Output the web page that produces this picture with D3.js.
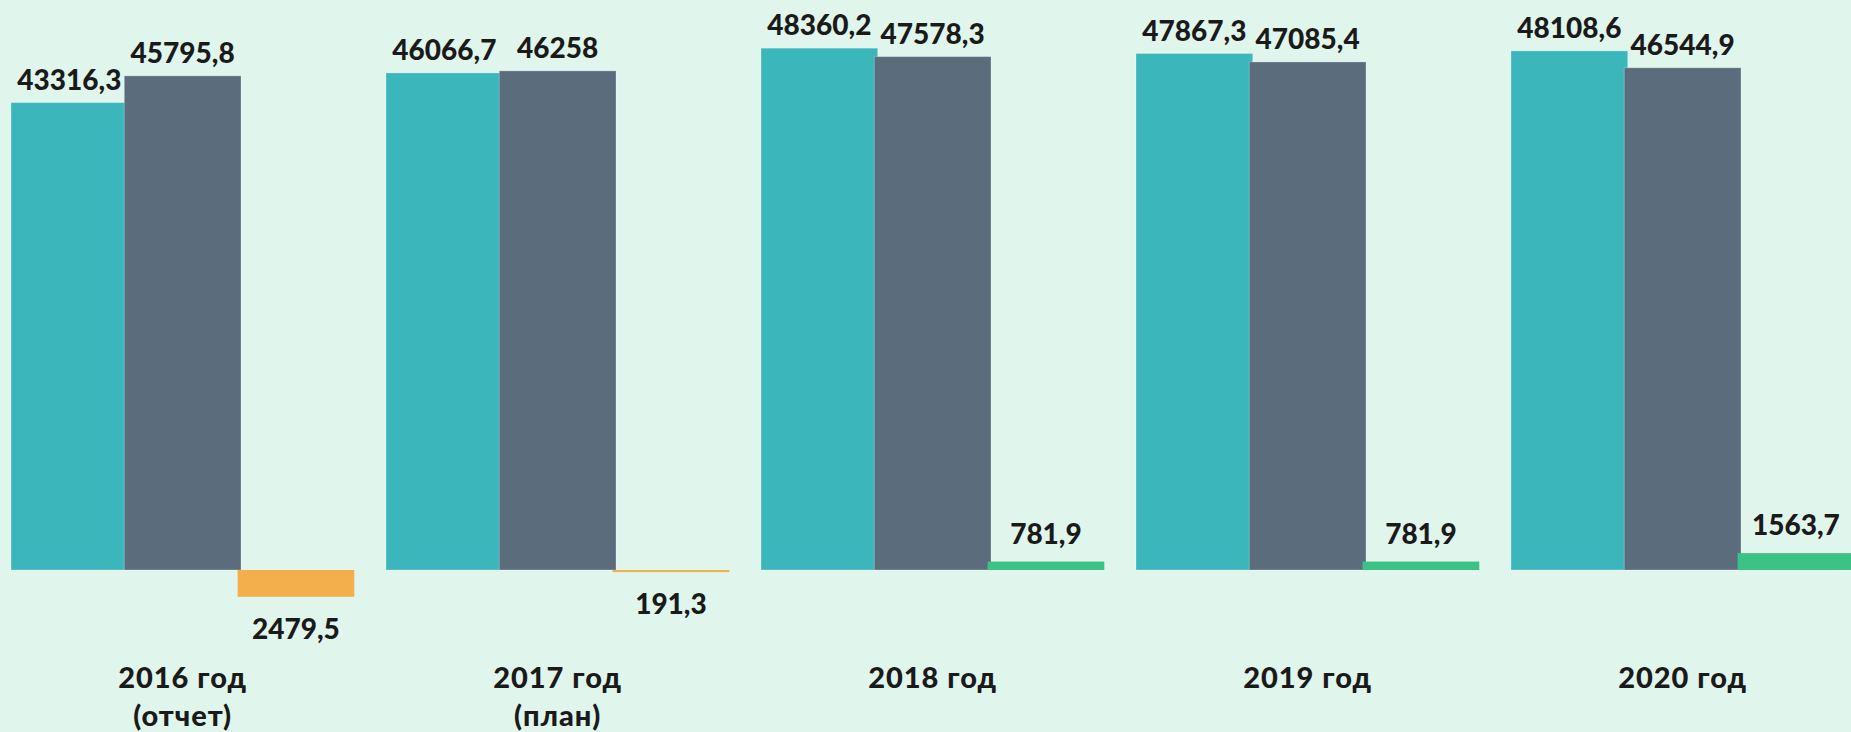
<!DOCTYPE html>
<meta charset="utf-8">
<style>
  body { margin: 0; background: #e0f5ec; }
  svg { display: block; }
  .lbl {
    font-family: "Lato", "Noto Sans", sans-serif;
    font-weight: 900;
    font-size: 28px;
    fill: #1a1a1a;
  }
  .cat { font-size: 29px; letter-spacing: 1px; }
</style>
<body>
<script src="https://d3js.org/d3.v7.min.js"></script>
<script>
  // data
  var years = ["2016", "2017", "2018", "2019", "2020"];
  var yearLines = [["2016 год", "(отчет)"], ["2017 год", "(план)"], ["2018 год"], ["2019 год"], ["2020 год"]];
  var income = [43316.3, 46066.7, 48360.2, 47867.3, 48108.6];
  var expense = [45795.8, 46258, 47578.3, 47085.4, 46544.9];
  var balance = [-2479.5, -191.3, 781.9, 781.9, 1563.7];
  var valueText = [
    ["43316,3", "46066,7", "48360,2", "47867,3", "48108,6"],
    ["45795,8", "46258", "47578,3", "47085,4", "46544,9"],
    ["2479,5", "191,3", "781,9", "781,9", "1563,7"]
  ];

  var width = 1851, height = 732;
  var baseY = 570, k = 0.01079;

  var svg = d3.select("body").append("svg")
    .attr("width", width)
    .attr("height", height);

  svg.append("rect")
    .attr("width", width).attr("height", height)
    .attr("fill", "#e0f5ec");

  // group positions
  var x = d3.scaleBand()
    .domain(years)
    .range([11, 11 + 375 * years.length]);

  var series = ["income", "expense", "balance"];
  var xs = d3.scaleBand()
    .domain(series)
    .range([0, 3 * 113.3]);
  var barW = 116.7;

  var y = d3.scaleLinear()
    .domain([-5000, 50000])
    .range([baseY + 5000 * k, baseY - 50000 * k]);

  function barColor(s, v) {
    if (s == "income") return "#3bb7bc";
    if (s == "expense") return "#5b6d7d";
    return v < 0 ? "#f3af4c" : "#3bc387";
  }

  var rows = [];
  years.forEach(function(yr, i) {
    rows.push({ year: yr, s: "income", v: income[i], t: valueText[0][i] });
    rows.push({ year: yr, s: "expense", v: expense[i], t: valueText[1][i] });
    rows.push({ year: yr, s: "balance", v: balance[i], t: valueText[2][i] });
  });

  var g = svg.append("g");

  // bars
  g.selectAll(".bar")
    .data(rows)
    .enter().append("rect")
    .attr("class", "bar")
    .attr("x", function(d) { return x(d.year) + xs(d.s); })
    .attr("width", barW)
    .attr("y", function(d) { return Math.min(y(d.v), y(0)); })
    .attr("height", function(d) { return Math.max(Math.abs(y(d.v) - y(0)), 2); })
    .attr("fill", function(d) { return barColor(d.s, d.v); })
    .attr("stroke", function(d) { return d.s == "balance" ? "none" : "rgba(255,255,255,0.25)"; })
    .attr("stroke-width", 1);

  // value labels
  g.selectAll(".val")
    .data(rows)
    .enter().append("text")
    .attr("class", "lbl val")
    .attr("text-anchor", "middle")
    .attr("x", function(d) { return x(d.year) + xs(d.s) + barW / 2; })
    .attr("y", function(d) {
      if (d.v < 0) return y(d.v) + 42;
      if (d.s == "balance") return y(d.v) - 18;
      return y(d.v) - 13;
    })
    .text(function(d) { return d.t; });

  // category labels
  var cat = g.selectAll(".cat")
    .data(years)
    .enter().append("text")
    .attr("class", "lbl cat")
    .attr("text-anchor", "middle")
    .attr("x", function(d) { return x(d) + (2 * 113.3 + barW) / 2; })
    .attr("y", 688);

  cat.selectAll("tspan")
    .data(function(d, i) { return yearLines[i]; })
    .enter().append("tspan")
    .attr("x", function() { return d3.select(this.parentNode).attr("x"); })
    .attr("dy", function(d, j) { return j == 0 ? 0 : 38; })
    .text(function(d) { return d; });
</script>
</body>
